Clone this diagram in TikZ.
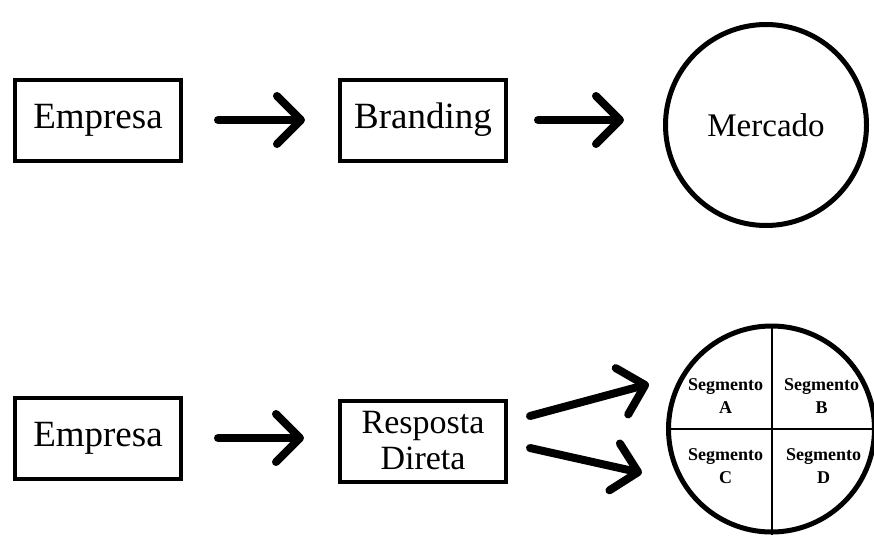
\documentclass[tikz,border=0pt]{standalone}
\usepackage{fontspec}
\setmainfont{Liberation Serif}
\usepackage{tikz}
\usetikzlibrary{positioning,arrows.meta}

\begin{document}
\begin{tikzpicture}[x=1pt, y=-1pt,
  box/.style={rectangle, draw=black, line width=4pt, minimum width=166pt,
              minimum height=81pt, text centered, align=center, font=\fontsize{37}{38}\selectfont},
  bigcirc/.style={circle, draw=black, line width=5pt, minimum size=201pt,
              font=\fontsize{33}{34}\selectfont},
  flow/.style={line width=8pt, line cap=round,
              -{Straight Barb[length=24pt, width=48pt, round]}},
  seglabel/.style={font=\bfseries\fontsize{18}{23}\selectfont, align=center, inner sep=0pt}
]
\useasboundingbox (0,0) rectangle (874,538);

% first row
\node[box] (emp1) at (98,120) {Empresa};
\node[box, right=155pt of emp1] (brand) {Branding};
\node[bigcirc, right=155pt of brand, yshift=-5pt] (merc) {Mercado};

\draw[flow, shorten <=35pt, shorten >=33pt] (emp1.east) -- (brand.west);
\draw[flow, shorten <=30pt, shorten >=39pt] (brand.east) -- (merc.west |- brand.east);

% second row
\node[box, below=233pt of emp1] (emp2) {Empresa};
\node[box, right=155pt of emp2, yshift=-3pt, font=\fontsize{34}{36}\selectfont] (resp) {Resposta\\Direta};
\node[bigcirc, minimum size=206pt, right=158pt of resp, yshift=12pt] (seg) {};

\draw[flow, shorten <=35pt, shorten >=34pt] (emp2.east) -- (resp.west |- emp2.east);
\draw[flow] ([shift={(22,-25)}]resp.east) -- ([shift={(141,-57)}]resp.east);
\draw[flow] ([shift={(22,7)}]resp.east) -- ([shift={(134,32)}]resp.east);

% segments
\draw[line width=2pt] (seg.north) -- (seg.south);
\draw[line width=2pt] (seg.west) -- (seg.east);
\node[seglabel] (segA) at ([shift={(-46,-33)}]seg.center) {Segmento\\A};
\node[seglabel] (segB) at ([shift={(50,-33)}]seg.center) {Segmento\\B};
\node[seglabel] (segC) at ([shift={(-46,37)}]seg.center) {Segmento\\C};
\node[seglabel] (segD) at ([shift={(52,37)}]seg.center) {Segmento\\D};
\end{tikzpicture}
\end{document}
